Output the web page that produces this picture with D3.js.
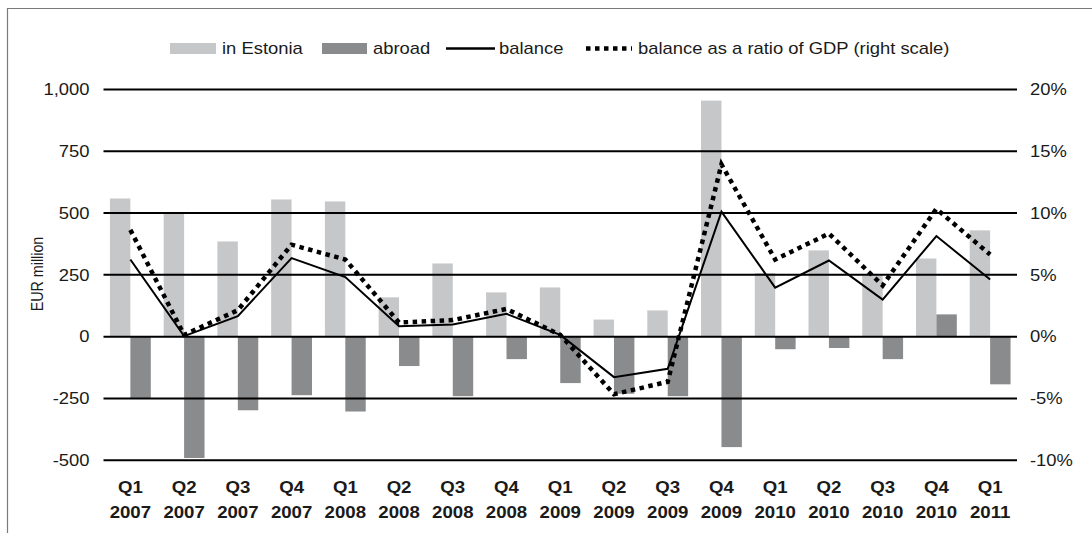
<!DOCTYPE html>
<html>
<head>
<meta charset="utf-8">
<script src="https://cdn.jsdelivr.net/npm/d3@7"></script>
<style>
  html, body { margin: 0; padding: 0; background: #fff; }
  svg { display: block; font-family: "Liberation Sans", Arial, Helvetica, sans-serif; }
</style>
</head>
<body>
<div class="main"></div>
<script>
// quarters shown on the x axis (two lines each)
var quarters = ["Q1", "Q2", "Q3", "Q4", "Q1", "Q2", "Q3", "Q4", "Q1", "Q2", "Q3", "Q4", "Q1", "Q2", "Q3", "Q4", "Q1"];
var years = ["2007", "2007", "2007", "2007", "2008", "2008", "2008", "2008", "2009", "2009", "2009", "2009", "2010", "2010", "2010", "2010", "2011"];

// EUR million
var inEstonia = [557, 495, 383, 553, 545, 157, 294, 177, 197, 67, 104, 953, 255, 347, 246, 314, 428];
var abroad = [-251, -493, -300, -239, -305, -121, -243, -93, -190, -233, -243, -449, -53, -48, -93, 88, -195];
var balance = [310, 0, 81, 316, 239, 40, 47, 90, 5, -166, -132, 504, 196, 306, 148, 405, 229];
// % of GDP, right scale
var ratioGDP = [8.6, 0.1, 2.1, 7.4, 6.2, 1.1, 1.3, 2.2, 0.1, -4.7, -3.7, 13.9, 6.2, 8.3, 4.1, 10.3, 6.6];

var leftTicks = [-500, -250, 0, 250, 500, 750, 1000];
var rightTicks = [-10, -5, 0, 5, 10, 15, 20];
var legendItems = ["in Estonia", "abroad", "balance", "balance as a ratio of GDP (right scale)"];

var W = 1092, H = 533;
var SX = 1.15;  // the source text is a bit wide, stretch it
var lightGrey = "#c6c7c9", darkGrey = "#8a8b8d", ink = "#1a1a1a";

var svg = d3.select(".main").append("svg")
    .attr("width", W)
    .attr("height", H);

// frame (top and left edge only)
svg.append("path")
    .attr("d", "M7.5,533V8.5H1092")
    .attr("fill", "none")
    .attr("stroke", "#7a7a7a")
    .attr("stroke-width", 1.2);

var idx = d3.range(quarters.length);

var x = d3.scaleBand()
    .domain(idx)
    .range([103.5, 1017])
    .paddingInner(0.24)
    .paddingOuter(0.12);

var xSub = d3.scaleBand()
    .domain([0, 1])
    .range([0, x.bandwidth()]);

var y = d3.scaleLinear().domain([-500, 1000]).range([459.7, 89]);
var yR = d3.scaleLinear().domain([-10, 20]).range([459.7, 89]);

function stretch(sel) {
    sel.each(function() {
        var t = d3.select(this);
        var tx = +t.attr("x") || 0;
        t.attr("x", 0).attr("transform", "translate(" + tx + ",0) scale(" + SX + ",1)");
    });
}

// bars
var bars = svg.append("g");
bars.selectAll("rect.est")
    .data(inEstonia)
    .join("rect")
    .attr("class", "est")
    .attr("x", function(d, i) { return x(i) + xSub(0); })
    .attr("width", xSub.bandwidth())
    .attr("y", function(d) { return y(Math.max(0, d)); })
    .attr("height", function(d) { return Math.abs(y(d) - y(0)); })
    .attr("fill", lightGrey);

bars.selectAll("rect.abr")
    .data(abroad)
    .join("rect")
    .attr("class", "abr")
    .attr("x", function(d, i) { return x(i) + xSub(1); })
    .attr("width", xSub.bandwidth())
    .attr("y", function(d) { return y(Math.max(0, d)); })
    .attr("height", function(d) { return Math.abs(y(d) - y(0)); })
    .attr("fill", darkGrey);

// left axis with gridlines
var fmt = d3.format(",");
var gL = svg.append("g")
    .attr("transform", "translate(103.5,0)")
    .call(d3.axisLeft(y)
        .tickValues(leftTicks)
        .tickSize(-913.5)
        .tickPadding(14)
        .tickFormat(function(d) { return fmt(d).replace("\u2212", "-"); }));
gL.select(".domain").remove();
gL.selectAll(".tick line").attr("stroke", "#000").attr("stroke-width", 2);
gL.selectAll(".tick text")
    .attr("font-size", 16)
    .attr("fill", ink)
    .attr("dy", "0.36em")
    .call(stretch);

// right axis
var gR = svg.append("g")
    .attr("transform", "translate(1017,0)")
    .call(d3.axisRight(yR)
        .tickValues(rightTicks)
        .tickSize(0)
        .tickPadding(13)
        .tickFormat(function(d) { return String(d).replace("\u2212", "-") + "%"; }));
gR.select(".domain").remove();
gR.selectAll(".tick text")
    .attr("font-size", 16)
    .attr("fill", ink)
    .attr("dy", "0.36em")
    .call(stretch);

// y axis title
svg.append("text")
    .attr("transform", "translate(43,274) scale(" + SX + ",1) rotate(-90)")
    .attr("text-anchor", "middle")
    .attr("font-size", 14.3)
    .attr("fill", ink)
    .text("EUR million");

// x labels
var xl = svg.append("g").selectAll("g")
    .data(idx)
    .join("g")
    .attr("transform", function(i) { return "translate(" + (x(i) + x.bandwidth() / 2) + ",0) scale(" + SX + ",1)"; });
xl.append("text")
    .attr("y", 493.5)
    .attr("text-anchor", "middle")
    .attr("font-size", 16.2)
    .attr("font-weight", "bold")
    .attr("fill", ink)
    .text(function(i) { return quarters[i]; });
xl.append("text")
    .attr("y", 518)
    .attr("text-anchor", "middle")
    .attr("font-size", 16.2)
    .attr("font-weight", "bold")
    .attr("fill", ink)
    .text(function(i) { return years[i]; });

// lines
var cx = function(d, i) { return x(i) + x.bandwidth() / 2; };

svg.append("path")
    .datum(ratioGDP)
    .attr("fill", "none")
    .attr("stroke", "#000")
    .attr("stroke-width", 4.5)
    .attr("stroke-dasharray", "4.5,4.5")
    .attr("d", d3.line().x(cx).y(function(d) { return yR(d); }));

svg.append("path")
    .datum(balance)
    .attr("fill", "none")
    .attr("stroke", "#000")
    .attr("stroke-width", 2)
    .attr("d", d3.line().x(cx).y(function(d) { return y(d); }));

// legend
var lg = svg.append("g");
var legendX = [[170, 216, 222], [322, 367, 373], [446, 495, 499], [586, 632, 638]];
legendItems.forEach(function(name, k) {
    var p = legendX[k];
    if (k < 2) {
        lg.append("rect")
            .attr("x", p[0]).attr("y", 43)
            .attr("width", p[1] - p[0]).attr("height", 11)
            .attr("fill", k === 0 ? lightGrey : darkGrey);
    } else {
        lg.append("line")
            .attr("x1", p[0]).attr("x2", p[1])
            .attr("y1", 48.5).attr("y2", 48.5)
            .attr("stroke", "#000")
            .attr("stroke-width", k === 2 ? 2.5 : 4.5)
            .attr("stroke-dasharray", k === 2 ? null : "4.5,4.5");
    }
    lg.append("text")
        .attr("transform", "translate(" + p[2] + ",54) scale(" + SX + ",1)")
        .attr("font-size", 16)
        .attr("fill", ink)
        .text(name);
});
</script>
</body>
</html>
